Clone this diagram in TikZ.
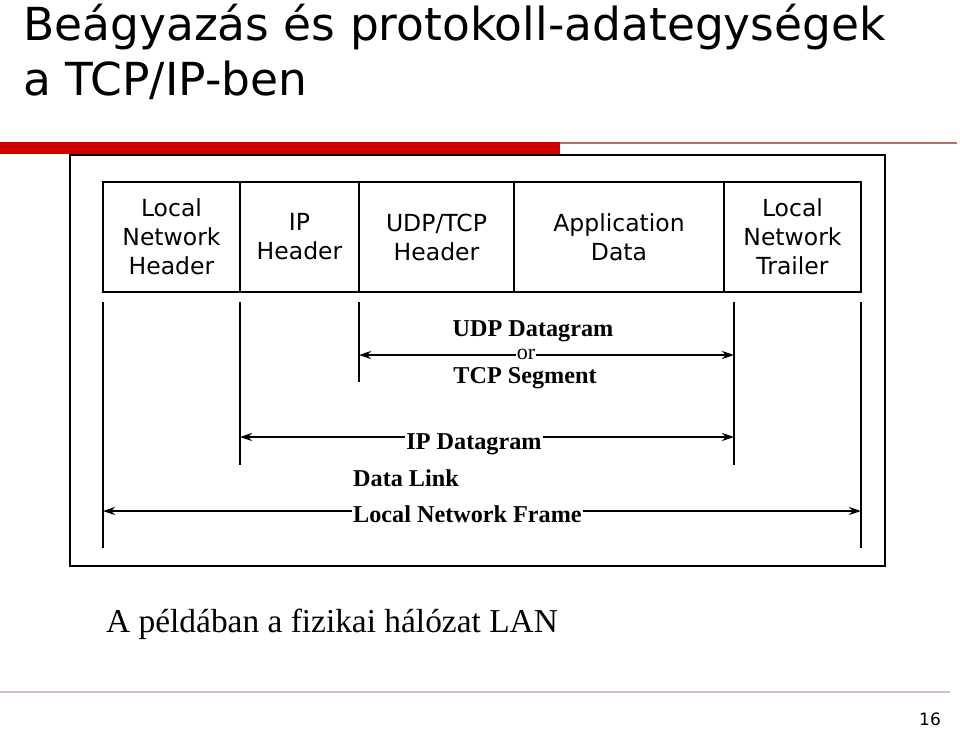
\documentclass[tikz,border=0pt]{standalone}
\usepackage{fontspec}
\setmainfont{Liberation Serif}
\newfontfamily\verd{DejaVu Sans}
\usetikzlibrary{arrows.meta,positioning}
\definecolor{slidered}{RGB}{204,0,0}
\definecolor{rulebrown}{RGB}{180,110,110}
\definecolor{rulegray}{RGB}{215,190,190}

\begin{document}
\begin{tikzpicture}[
  x=1pt, y=-1pt,
  cell/.style={draw, line width=1.2pt, outer sep=0pt, inner sep=0pt,
    minimum height=110pt, align=center,
    font=\verd\fontsize{23.5}{29}\selectfont},
  tick/.style={line width=2pt},
  span/.style={{Stealth[length=12pt,width=8pt]}-{Stealth[length=12pt,width=8pt]}, line width=1.6pt},
  lbl/.style={font=\bfseries\fontsize{24.2}{25}\selectfont, inner sep=1pt}
]
\useasboundingbox (0,0) rectangle (960,728);
% title
\node[anchor=base west, inner sep=0pt, font=\verd\fontsize{45.5}{55}\selectfont]
  (title1) at (23,40) {Beágyazás és protokoll-adategységek};
\node[anchor=base west, inner sep=0pt, font=\verd\fontsize{45.5}{55}\selectfont]
  (title2) at (23,95) {a TCP/IP-ben};
\fill[slidered] (0,142) rectangle (560,154);
\draw[rulebrown, line width=1.5pt] (560,143) -- (957,143);
% frame
\draw[line width=2pt] (70,155) rectangle (885,566);
% protocol data unit
\node[cell, anchor=north west, minimum width=137pt] (lnh) at (103,182) {Local\\Network\\Header};
\node[cell, right=0pt of lnh, minimum width=119pt] (iph) {IP\\Header};
\node[cell, right=0pt of iph, minimum width=155pt] (tcph) {UDP/TCP\\Header};
\node[cell, right=0pt of tcph, minimum width=210pt] (appd) {Application\\Data};
\node[cell, right=0pt of appd, minimum width=137pt] (lnt) {Local\\Network\\Trailer};
% ticks
\coordinate (t1) at (103,302); \coordinate (b1) at (103,548);
\coordinate (t2) at (240,302); \coordinate (b2) at (240,465);
\coordinate (t3) at (359,302); \coordinate (b3) at (359,382);
\coordinate (t4) at (734,302); \coordinate (b4) at (734,465);
\coordinate (t5) at (861,302); \coordinate (b5) at (861,548);
\foreach \i in {1,...,5} \draw[tick] (t\i) -- (b\i);
% spans
\draw[span] (359,355) -- (734,355);
\node[lbl] (udp) at (533,331) {UDP Datagram};
\node[fill=white, inner sep=1pt, font=\fontsize{22}{22}\selectfont] (or) at (526,354) {or};
\node[lbl] (tcp) at (525,378) {TCP Segment};
\draw[span] (240,437) -- (734,437);
\node[lbl, fill=white, anchor=base] (ipd) at (474,449) {IP Datagram};
\node[lbl, anchor=base west] (dl) at (352,486) {Data Link};
\draw[span] (103,511) -- (861,511);
\node[lbl, fill=white, anchor=base west] (lnf) at (352,522) {Local Network Frame};
% footer
\node[anchor=base west, inner sep=0pt, font=\fontsize{33.4}{34}\selectfont]
  (note) at (106,632) {A példában a fizikai hálózat LAN};
\draw[rulegray, line width=1.2pt] (0,692) -- (950,692);
\node[anchor=base, inner sep=0pt, font=\verd\fontsize{17}{17}\selectfont] (page) at (930,725) {16};
\end{tikzpicture}
\end{document}
